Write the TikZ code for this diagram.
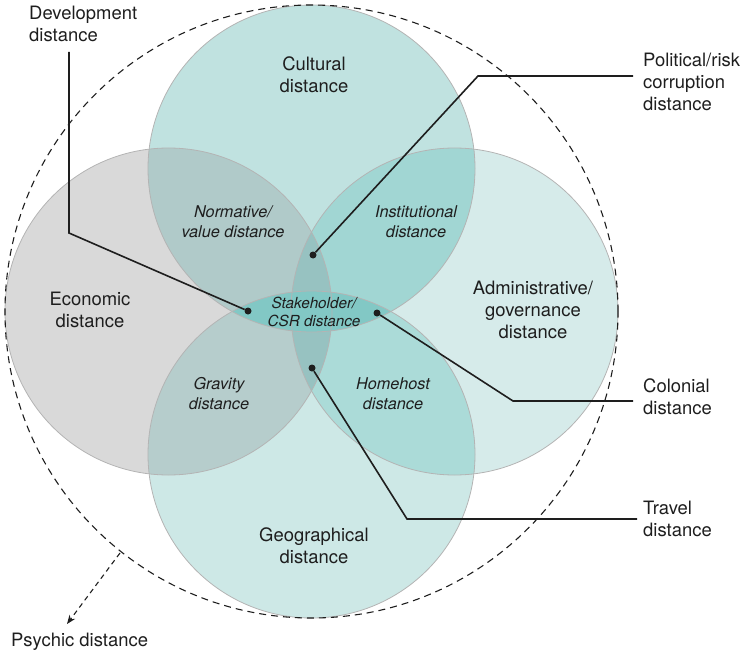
\documentclass[tikz,border=0pt]{standalone}
\usepackage{fontspec}
\setmainfont{TeX Gyre Heros}
\usetikzlibrary{positioning}
\usetikzlibrary{arrows.meta}
\definecolor{ink}{HTML}{1E1E1E}
\definecolor{ring_grey}{HTML}{B4B4B4}
\definecolor{fill_econ}{HTML}{D9D9D9}
\definecolor{fill_cult}{HTML}{C0E2E0}
\definecolor{fill_admin}{HTML}{D6EBEA}
\definecolor{fill_geo}{HTML}{CDE8E6}
\definecolor{fill_norm}{HTML}{B0CAC9}
\definecolor{fill_inst}{HTML}{A1D6D3}
\definecolor{fill_grav}{HTML}{B6CDCC}
\definecolor{fill_home}{HTML}{ABDBD8}
\definecolor{fill_vlens}{HTML}{97C2C1}
\definecolor{fill_hlens}{HTML}{82C8C5}
\tikzset{
        % Circle outlines
        ring/.style={draw=ring_grey, line width=0.8bp},
        % Outer dashed circle
        ring_outer/.style={draw=ink, line width=1.1bp, dash pattern=on 7bp off 5bp},
        % Labels inside the circles
        label_main/.style={align=center, inner sep=0pt, text=ink, font=\fontsize{18.5}{22}\selectfont},
        % Labels of the overlaps
        label_overlap/.style={align=center, inner sep=0pt, text=ink, font=\fontsize{16.3}{20}\selectfont\itshape},
        % Labels outside the circles
        label_side/.style={align=left, inner sep=0pt, text=ink, font=\fontsize{18.5}{22}\selectfont},
        % Leader dots
        node_dot/.style={circle, fill=ink, inner sep=0pt, minimum size=7bp},
        % Leader lines
        leader/.style={draw=ink, line width=1.6bp}
}
\def\R{163.5bp}

\begin{document}
\begin{tikzpicture}[x=1bp, y=-1bp]
            \useasboundingbox (0,0) rectangle (747,658);
            \coordinate (cAll) at (311.5,311.5);
            \coordinate (cCult) at (311.5,168.5);
            \coordinate (cEcon) at (168.5,311.5);
            \coordinate (cAdmin) at (454.5,311.5);
            \coordinate (cGeo) at (311.5,454.5);

            % circles
            \fill[fill_econ] (cEcon) circle[radius=\R];
            \fill[fill_admin] (cAdmin) circle[radius=\R];
            \fill[fill_cult] (cCult) circle[radius=\R];
            \fill[fill_geo] (cGeo) circle[radius=\R];
            % overlaps
            \begin{scope}
                \clip (cCult) circle[radius=\R];
                \fill[fill_norm] (cEcon) circle[radius=\R];
                \fill[fill_inst] (cAdmin) circle[radius=\R];
            \end{scope}
            \begin{scope}
                \clip (cGeo) circle[radius=\R];
                \fill[fill_grav] (cEcon) circle[radius=\R];
                \fill[fill_home] (cAdmin) circle[radius=\R];
            \end{scope}
            \begin{scope}
                \clip (cEcon) circle[radius=\R];
                \fill[fill_vlens] (cAdmin) circle[radius=\R];
            \end{scope}
            \begin{scope}
                \clip (cCult) circle[radius=\R];
                \fill[fill_hlens] (cGeo) circle[radius=\R];
            \end{scope}
            \foreach \c in {cEcon, cAdmin, cCult, cGeo}
                \draw[ring] (\c) circle[radius=\R];
            \draw[ring_outer] (cAll) circle[radius=306.5bp];

            % circle labels
            \node[label_main] (lblCult) at (314,75) {Cultural\\distance};
            \node[label_main] (lblEcon) at (90,310) {Economic\\distance};
            \node[label_main] (lblAdmin) at (533,310) {Administrative/\\governance\\distance};
            \node[label_main] (lblGeo) at (314,546) {Geographical\\distance};
            % overlap labels
            \node[label_overlap] (lblNorm) at (233,222) {Normative/\\value distance};
            \node[label_overlap] (lblInst) at (416,222) {Institutional\\distance};
            \node[label_overlap] (lblGrav) at (219,394) {Gravity\\distance};
            \node[label_overlap] (lblHome) at (393,394) {Homehost\\distance};
            \node[label_overlap, font=\fontsize{15.3}{18}\selectfont\itshape] (lblStake) at (314,312) {Stakeholder/\\CSR distance};

            % outer labels
            \node[label_side, anchor=west] (lblDev) at (29,24) {Development\\distance};
            \node[label_side, anchor=west] (lblPol) at (643,82) {Political/risk\\corruption\\distance};
            \node[label_side, anchor=west] (lblCol) at (643,397) {Colonial\\distance};
            \node[label_side, anchor=west] (lblTrav) at (643,519) {Travel\\distance};
            \node[label_side, anchor=west] (lblPsy) at (11,642) {Psychic distance};

            % leaders
            \node[node_dot] (dotDev) at (248,311) {};
            \node[node_dot] (dotPol) at (313,255) {};
            \node[node_dot] (dotCol) at (377,313) {};
            \node[node_dot] (dotTrav) at (312,368) {};
            \coordinate (startDev) at (69,52);
            \coordinate (bendDev) at (69,233);
            \coordinate (bendPol) at (478,76);
            \coordinate (endPol) at (633,76);
            \coordinate (bendCol) at (513,401);
            \coordinate (endCol) at (633,401);
            \coordinate (bendTrav) at (407,519);
            \coordinate (endTrav) at (637,519);
            \draw[leader] (startDev) -- (bendDev) -- (dotDev);
            \draw[leader] (dotPol) -- (bendPol) -- (endPol);
            \draw[leader] (dotCol) -- (bendCol) -- (endCol);
            \draw[leader] (dotTrav) -- (bendTrav) -- (endTrav);

            % psychic distance arrow
            \coordinate (psyStart) at (120,553);
            \coordinate (psyEnd) at (67,624);
            \draw[draw=ink, line width=1.1bp, dash pattern=on 5bp off 4bp, -{Stealth[length=9bp, width=7bp]}] (psyStart) -- (psyEnd);
        \end{tikzpicture}
\end{document}
